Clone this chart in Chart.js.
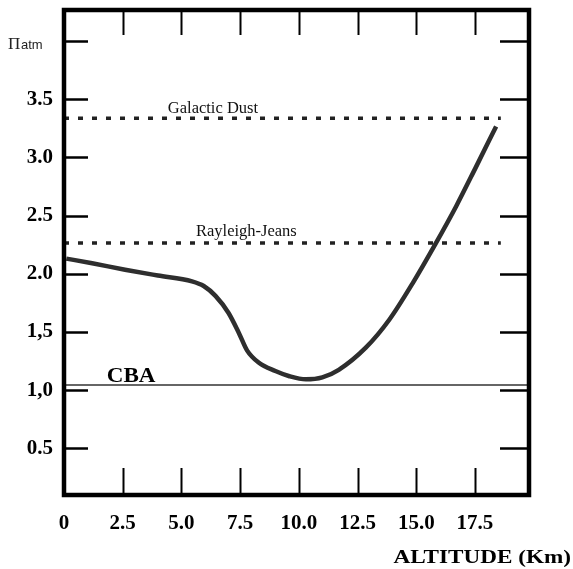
<!DOCTYPE html>
<html><head><meta charset="utf-8">
<script src="https://cdn.jsdelivr.net/npm/chart.js@4/dist/chart.umd.min.js"></script>
<style>html,body{margin:0;padding:0;background:#fff;}#wrap{width:573px;height:569px;position:relative;}</style>
</head><body><div id="wrap"><canvas id="c" width="573" height="569"></canvas></div>
<script>
// ---- data ----
const altitudeKm = [0.1, 1.2, 2.6, 4.0, 5.45, 5.95, 6.45, 7.0, 7.45, 7.8, 8.3, 9.0, 9.6, 10.3, 11.0, 11.7, 12.85, 13.85, 14.85, 15.8, 16.7, 17.55, 18.4];
const piAtm      = [2.13, 2.09, 2.035, 1.985, 1.935, 1.895, 1.81, 1.665, 1.49, 1.34, 1.235, 1.165, 1.12, 1.093, 1.11, 1.175, 1.365, 1.605, 1.92, 2.25, 2.58, 2.92, 3.265];
const galacticDustLevel = 3.335;
const rayleighJeansLevel = 2.265;
const cbaLevel = 1.045;
const refLineExtentKm = [0, 18.6];
const xTickValues = [0, 2.5, 5, 7.5, 10, 12.5, 15, 17.5];
const xTickLabels = ['0', '2.5', '5.0', '7.5', '10.0', '12.5', '15.0', '17.5'];
const yTickValues = [0.5, 1, 1.5, 2, 2.5, 3, 3.5, 4];
const yTickLabels = ['0.5', '1,0', '1,5', '2.0', '2.5', '3.0', '3.5', ''];

const pts = (xs, ys) => xs.map((x, i) => ({x, y: ys[i]}));

const framePlugin = {
  id: 'frame',
  afterDatasetsDraw(chart) {
    const {ctx, chartArea: a, scales} = chart;
    const xs = scales.x, ys = scales.y;
    ctx.save();
    ctx.strokeStyle = '#000';
    ctx.lineWidth = 2.5;
    yTickValues.forEach(v => {
      const p = Math.round(ys.getPixelForValue(v)) + 0.5;
      ctx.beginPath(); ctx.moveTo(a.left, p); ctx.lineTo(a.left + 24, p); ctx.stroke();
      ctx.beginPath(); ctx.moveTo(a.right - 29, p); ctx.lineTo(a.right, p); ctx.stroke();
    });
    ctx.lineWidth = 2;
    xTickValues.filter(v => v > 0).forEach(v => {
      const p = Math.round(xs.getPixelForValue(v)) + 0.5;
      ctx.beginPath(); ctx.moveTo(p, a.bottom); ctx.lineTo(p, a.bottom - 27); ctx.stroke();
      ctx.beginPath(); ctx.moveTo(p, a.top); ctx.lineTo(p, a.top + 25); ctx.stroke();
    });
    ctx.lineWidth = 4.5;
    ctx.strokeRect(a.left, a.top, a.right - a.left, a.bottom - a.top);

    ctx.fillStyle = '#111';
    ctx.textAlign = 'left';
    ctx.textBaseline = 'alphabetic';
    ctx.font = '16.5px "Liberation Serif"';
    ctx.fillText('Galactic Dust', xs.getPixelForValue(4.42), ys.getPixelForValue(galacticDustLevel) - 5);
    ctx.fillText('Rayleigh-Jeans', xs.getPixelForValue(5.62), ys.getPixelForValue(rayleighJeansLevel) - 6.5);

    ctx.save();
    ctx.translate(xs.getPixelForValue(1.82), ys.getPixelForValue(cbaLevel) - 3);
    ctx.scale(1.1, 1);
    ctx.font = 'bold 21px "Liberation Serif"';
    ctx.fillStyle = '#000';
    ctx.fillText('CBA', 0, 0);
    ctx.restore();

    const yTop = ys.getPixelForValue(4) + 7.7;
    ctx.fillStyle = '#222';
    ctx.font = '17px "Liberation Serif"';
    ctx.fillText('\u03A0', 8, yTop);
    ctx.font = '13px "Liberation Sans"';
    ctx.fillText('atm', 21, yTop);

    ctx.save();
    ctx.translate(571, 563.3);
    ctx.scale(1.22, 1);
    ctx.textAlign = 'right';
    ctx.fillStyle = '#000';
    ctx.font = 'bold 19px "Liberation Serif"';
    ctx.fillText('ALTITUDE (Km)', 0, 0);
    ctx.restore();
    ctx.restore();
  }
};

const noPad = s => { s.paddingTop = 0; s.paddingBottom = 0; s.paddingLeft = 0; s.paddingRight = 0; };

new Chart(document.getElementById('c'), {
  type: 'line',
  data: {
    datasets: [
      { label: 'Πatm', data: pts(altitudeKm, piAtm), borderColor: '#2e2e2e', borderWidth: 4.5,
        pointRadius: 0, cubicInterpolationMode: 'monotone', fill: false },
      { label: 'Galactic Dust', data: pts(refLineExtentKm, [galacticDustLevel, galacticDustLevel]),
        borderColor: '#222', borderWidth: 3.5, borderDash: [5, 9], pointRadius: 0, fill: false },
      { label: 'Rayleigh-Jeans', data: pts(refLineExtentKm, [rayleighJeansLevel, rayleighJeansLevel]),
        borderColor: '#222', borderWidth: 3.5, borderDash: [5, 9], pointRadius: 0, fill: false },
      { label: 'CBA', data: pts([0, 19.8], [cbaLevel, cbaLevel]),
        borderColor: '#333', borderWidth: 1.5, pointRadius: 0, fill: false }
    ]
  },
  options: {
    responsive: false,
    animation: false,
    devicePixelRatio: 1,
    layout: { padding: { top: 10, right: 44, left: 0, bottom: 0 } },
    plugins: { legend: { display: false }, tooltip: { enabled: false } },
    scales: {
      x: {
        type: 'linear', min: 0, max: 19.8,
        afterBuildTicks: s => { s.ticks = xTickValues.map(v => ({value: v})); },
        afterFit: s => { s.height = 74; noPad(s); },
        grid: { display: false, drawTicks: false },
        border: { display: false },
        ticks: {
          autoSkip: false, maxRotation: 0, padding: 16, color: '#000',
          font: { family: 'Liberation Serif', weight: 'bold', size: 21 },
          callback: (v, i) => xTickLabels[i]
        }
      },
      y: {
        type: 'linear', min: 0.1, max: 4.265,
        afterBuildTicks: s => { s.ticks = yTickValues.map(v => ({value: v})); },
        afterFit: s => { s.width = 64; noPad(s); },
        grid: { display: false, drawTicks: false },
        border: { display: false },
        ticks: {
          padding: 11, color: '#000',
          font: { family: 'Liberation Serif', weight: 'bold', size: 21 },
          callback: (v, i) => yTickLabels[i]
        }
      }
    }
  },
  plugins: [framePlugin]
});
</script></body></html>
